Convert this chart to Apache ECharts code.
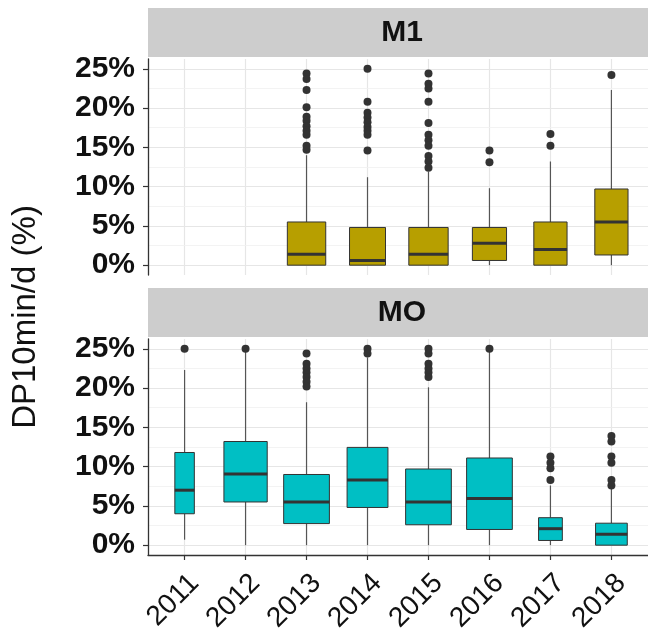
<!DOCTYPE html>
<html>
<head>
<meta charset="utf-8">
<script src="https://cdn.jsdelivr.net/npm/echarts@6/dist/echarts.min.js"></script>
<style>
  html, body { margin: 0; padding: 0; background: #fff; }
  #chart { width: 648px; height: 635px; }
</style>
</head>
<body>
<div id="chart"></div>
<script>
  // categories
  const years = ['2011', '2012', '2013', '2014', '2015', '2016', '2017', '2018'];
  const panels = ['M1', 'MO'];

  // box stats per year: [lower whisker, Q1, median, Q3, upper whisker] in %, null = no data
  const m1Stats = [
    null,
    null,
    [0, 0, 1.4, 5.5, 14.0],
    [0, 0, 0.6, 4.8, 11.2],
    [0, 0, 1.4, 4.8, 11.9],
    [0, 0.6, 2.8, 4.8, 9.8],
    [0, 0, 2.0, 5.5, 13.2],
    [0, 1.3, 5.5, 9.7, 22.3]
  ];
  const moStats = [
    [0.7, 4.0, 7.0, 11.8, 22.3],
    [0, 5.5, 9.05, 13.2, 24.6],
    [0, 2.75, 5.5, 9.0, 18.2],
    [0, 4.8, 8.3, 12.45, 23.9],
    [0, 2.6, 5.5, 9.7, 20.1],
    [0, 2.0, 5.95, 11.1, 24.7],
    [0, 0.6, 2.1, 3.5, 7.6],
    [0, 0, 1.4, 2.8, 7.2]
  ];

  // varwidth: relative box width (share of one category step, ~ sqrt(n))
  const m1Width = [null, null, 0.63, 0.59, 0.645, 0.56, 0.545, 0.545];
  const moWidth = [0.32, 0.71, 0.75, 0.67, 0.75, 0.75, 0.39, 0.52];

  // outliers per year, %
  const m1Outliers = [
    [],
    [],
    [24.4, 23.7, 22.3, 20.1, 18.9, 18.4, 17.7, 17.1, 16.6, 15.2, 14.7],
    [25.0, 20.8, 19.4, 18.8, 18.2, 17.6, 17.1, 16.6, 14.6],
    [24.4, 23.1, 22.5, 20.8, 18.1, 16.6, 15.9, 15.2, 13.9, 13.2, 12.4],
    [14.6, 13.1],
    [16.7, 15.2],
    [24.2]
  ];
  const moOutliers = [
    [25.0],
    [25.0],
    [24.4, 23.1, 22.5, 22.0, 21.4, 20.8, 20.2],
    [25.0, 24.4],
    [25.0, 24.4, 23.1, 22.5, 22.0, 21.4],
    [25.0],
    [11.3, 10.5, 9.8, 8.3],
    [13.9, 13.2, 11.3, 10.5, 8.3, 7.6]
  ];

  // tick labels
  const yTicks = [0, 5, 10, 15, 20, 25];
  const yMinor = [2.5, 7.5, 12.5, 17.5, 22.5];
  const xTicks = years.map((y, i) => i);

  const statsAll = [m1Stats, moStats];
  const widthAll = [m1Width, moWidth];
  const outAll = [m1Outliers, moOutliers];
  const fills = ['#b79f00', '#00bfc4'];

  const FONT = '"Liberation Sans", Arial, sans-serif';
  const gridTops = [59, 339];
  const stripTops = [8, 288];

  function boxRenderer(fill) {
    return function (params, api) {
      const x = api.value(0);
      const lo = api.coord([x, api.value(1)]);
      const q1 = api.coord([x, api.value(2)]);
      const med = api.coord([x, api.value(3)]);
      const q3 = api.coord([x, api.value(4)]);
      const hi = api.coord([x, api.value(5)]);
      const w = api.size([1, 0])[0] * api.value(6);
      return {
        type: 'group',
        children: [
          { type: 'line', shape: { x1: lo[0], y1: lo[1], x2: q1[0], y2: q1[1] },
            style: { stroke: '#555', lineWidth: 1.2 } },
          { type: 'line', shape: { x1: q3[0], y1: q3[1], x2: hi[0], y2: hi[1] },
            style: { stroke: '#555', lineWidth: 1.2 } },
          { type: 'rect', shape: { x: q1[0] - w / 2, y: q3[1], width: w, height: q1[1] - q3[1] },
            style: { fill: fill, stroke: '#333', lineWidth: 1 } },
          { type: 'line', shape: { x1: med[0] - w / 2, y1: med[1], x2: med[0] + w / 2, y2: med[1] },
            style: { stroke: '#333', lineWidth: 3 } }
        ]
      };
    };
  }

  const grid = [], xAxis = [], yAxis = [], series = [], graphic = [];

  panels.forEach((name, p) => {
    grid.push({ left: 148, right: -8, top: gridTops[p], height: 216 });
    const bottom = p === panels.length - 1;
    // ggplot style discrete axis: 0.6 step padding on both ends
    xAxis.push({
      type: 'value', gridIndex: p, min: -0.6, max: years.length - 0.4,
      axisLine: { show: bottom, onZero: false, lineStyle: { color: '#333', width: 1.3 } },
      axisTick: { show: bottom, length: 5, customValues: xTicks, lineStyle: { color: '#333', width: 1.2 } },
      axisLabel: { show: bottom, customValues: xTicks, formatter: v => years[v],
        rotate: 45, margin: 14, verticalAlign: 'top',
        color: '#111', fontSize: 28, fontFamily: FONT },
      splitLine: { show: false }
    });
    yAxis.push({
      type: 'value', gridIndex: p, min: -1.25, max: 26.25,
      axisLine: { show: true, onZero: false, lineStyle: { color: '#333', width: 1.3 } },
      axisTick: { show: true, length: 5, customValues: yTicks, lineStyle: { color: '#333', width: 1.2 } },
      axisLabel: { customValues: yTicks, margin: 13, color: '#111', fontSize: 30, fontWeight: 'bold',
        fontFamily: FONT, formatter: v => v + '%' },
      splitLine: { show: false }
    });

    // panel grid lines
    series.push({
      type: 'line', xAxisIndex: p, yAxisIndex: p, data: [], z: 1,
      markLine: {
        z: 0, silent: true, symbol: ['none', 'none'], label: { show: false }, animation: false,
        emphasis: { disabled: true },
        lineStyle: { color: '#e6e6e6', width: 1.2, type: 'solid' },
        data: [
          ...xTicks.map(i => ({ xAxis: i })),
          ...yTicks.map(v => ({ yAxis: v })),
          ...yMinor.map(v => ({ yAxis: v, lineStyle: { color: '#f0f0f0', width: 0.8, type: 'solid' } }))
        ]
      }
    });

    const boxData = [];
    statsAll[p].forEach((s, i) => {
      if (s) boxData.push([i, ...s, widthAll[p][i]]);
    });
    series.push({
      type: 'custom', xAxisIndex: p, yAxisIndex: p, z: 2,
      renderItem: boxRenderer(fills[p]),
      encode: { x: 0, y: [1, 2, 3, 4, 5] },
      data: boxData
    });

    const outData = [];
    outAll[p].forEach((list, i) => list.forEach(v => outData.push([i, v])));
    series.push({
      type: 'scatter', xAxisIndex: p, yAxisIndex: p, z: 3,
      symbol: 'circle', symbolSize: 8,
      itemStyle: { color: '#333', opacity: 1 },
      data: outData
    });

    // facet strip
    graphic.push({
      type: 'rect', shape: { x: 148, y: stripTops[p], width: 508, height: 49 },
      style: { fill: '#cdcdcd' }, z: 0
    });
    graphic.push({
      type: 'text', x: 402, y: stripTops[p] + 25,
      style: { text: name, font: 'bold 30px ' + FONT, fill: '#111',
        align: 'center', verticalAlign: 'middle', textAlign: 'center', textVerticalAlign: 'middle' }
    });
  });

  // y axis title
  graphic.push({
    type: 'text', x: 26, y: 317, rotation: Math.PI / 2,
    style: { text: 'DP10min/d (%)', font: '33px ' + FONT, fill: '#111',
      align: 'center', verticalAlign: 'middle', textAlign: 'center', textVerticalAlign: 'middle' }
  });

  const chart = echarts.init(document.getElementById('chart'));
  chart.setOption({
    animation: false,
    backgroundColor: '#fff',
    grid, xAxis, yAxis, series, graphic
  });
</script>
</body>
</html>
